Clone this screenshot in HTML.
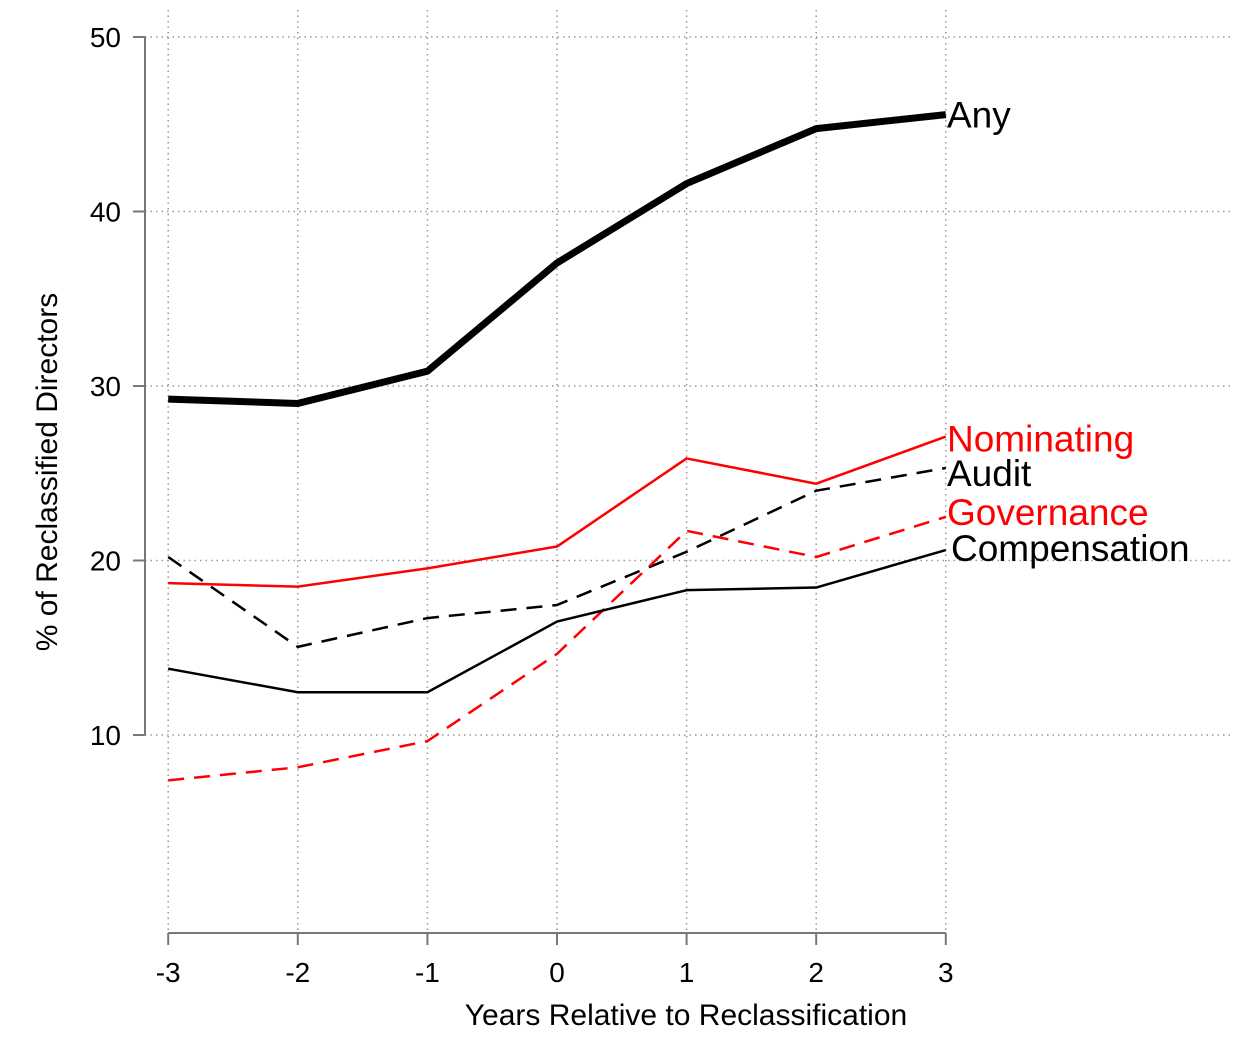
<!DOCTYPE html>
<html><head><meta charset="utf-8"><style>
body{margin:0;background:#fff}
svg{display:block;font-family:"Liberation Sans",Arial,sans-serif}
</style></head><body>
<svg id="chart" width="1242" height="1064" viewBox="0 0 1242 1064" xmlns="http://www.w3.org/2000/svg"></svg>
<script>
const years = [-3,-2,-1,0,1,2,3];
const yTicks = [10,20,30,40,50];
const anyVals = [29.25,29.0,30.85,37.05,41.6,44.75,45.55];
const nominatingVals = [18.7,18.5,19.55,20.8,25.85,24.4,27.1];
const auditVals = [20.2,15.05,16.7,17.45,20.5,24.0,25.3];
const governanceVals = [7.4,8.15,9.65,14.65,21.7,20.2,22.5];
const compensationVals = [13.8,12.45,12.45,16.5,18.3,18.45,20.6];

const svg = document.getElementById('chart');
const NS = 'http://www.w3.org/2000/svg';
const xs = v => 557 + v*129.6;
const ys = v => 909.5 - v*17.45;
function mk(tag, attrs, parent){const e=document.createElementNS(NS,tag);for(const k in attrs)e.setAttribute(k,attrs[k]);(parent||svg).appendChild(e);return e;}

yTicks.forEach(t=>{
  const g = mk('line',{x1:145,x2:1232,y1:ys(t),y2:ys(t),stroke:'#999','stroke-width':1.5,'stroke-dasharray':'1.5 4'});
  
  
});
years.forEach(v=>{
  const g = mk('line',{x1:xs(v),x2:xs(v),y1:10,y2:933,stroke:'#999','stroke-width':1.5,'stroke-dasharray':'1.5 4'});
  
  
});
const ya = mk('line',{x1:145,x2:145,y1:ys(50),y2:ys(10),stroke:'#777','stroke-width':2});


const xa = mk('line',{x1:xs(-3),x2:xs(3),y1:933,y2:933,stroke:'#777','stroke-width':2});


yTicks.forEach(t=>{
  mk('line',{x1:133,x2:145,y1:ys(t),y2:ys(t),stroke:'#777','stroke-width':2});
  const tx = mk('text',{x:121,y:ys(t)+10,'text-anchor':'end','font-size':28});
  tx.textContent = t;
  
  
});
years.forEach(v=>{
  mk('line',{x1:xs(v),x2:xs(v),y1:933,y2:945,stroke:'#777','stroke-width':2});
  const tx = mk('text',{x:xs(v),y:982,'text-anchor':'middle','font-size':28});
  tx.textContent = v;
  
  
});
const xt = mk('text',{x:686,y:1025,'text-anchor':'middle','font-size':30});
xt.textContent='Years Relative to Reclassification';


const yt = mk('text',{x:0,y:0,'text-anchor':'middle','font-size':30,transform:'translate(57,472) rotate(-90)'});
yt.textContent='% of Reclassified Directors';



const series = [
  {name:'any',label:'Any',vals:anyVals,color:'#000',w:7,dash:null},
  {name:'nominating',label:'Nominating',vals:nominatingVals,color:'#f00',w:2.5,dash:null},
  {name:'audit',label:'Audit',vals:auditVals,color:'#000',w:2.5,dash:'16 10'},
  {name:'governance',label:'Governance',vals:governanceVals,color:'#f00',w:2.5,dash:'16 10'},
  {name:'compensation',label:'Compensation',vals:compensationVals,color:'#000',w:2.5,dash:null}
];
const labelDy = {any:13,nominating:15,audit:18,governance:8,compensation:11};
series.forEach(s=>{
  const p = mk('polyline',{points:s.vals.map((v,i)=>xs(years[i])+','+ys(v)).join(' '),fill:'none',stroke:s.color,'stroke-width':s.w,'stroke-linejoin':'round'});
  if(s.dash)p.setAttribute('stroke-dasharray',s.dash);
  
  
  const last = s.vals[s.vals.length-1];
  const t = mk('text',{x:s.name==='compensation'?951:947,y:ys(last)+labelDy[s.name],'font-size':37,fill:s.color});
  t.textContent = s.label;
  
  
});
</script>
</body></html>
